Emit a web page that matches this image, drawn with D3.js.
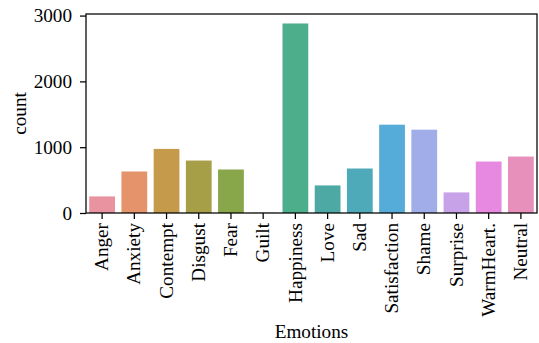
<!DOCTYPE html>
<html><head><meta charset="utf-8">
<script src="https://cdn.jsdelivr.net/npm/d3@7"></script>
<style>body{margin:0;background:#fff}svg{display:block}svg text{font-family:"Liberation Serif","Times New Roman",serif;fill:#000}</style>
</head><body><svg id="c" width="539" height="343"></svg>
<script>
const categories = ["Anger","Anxiety","Contempt","Disgust","Fear","Guilt","Happiness","Love","Sad","Satisfaction","Shame","Surprise","WarmHeart.","Neutral"];
const counts = [252, 631, 974, 797, 661, 3, 2880, 419, 676, 1342, 1266, 313, 782, 858];
const colors = ["#e8939f","#e5936b","#c59b4b","#a69f48","#88a64a","#56ab51","#4dae8b","#4ca9a4","#4eaab9","#55acd8","#a1ade8","#c8a2e8","#e789e0","#e790bc"];
const yTicks = [0, 1000, 2000, 3000];

const FONT = '"Liberation Serif","Times New Roman",serif';
const svg = d3.select("#c");
const L = 86, R = 537, T = 14, B = 213;
const fs = 19.2;
const x = d3.scaleBand().domain(categories).range([L, R]).paddingInner(0.2).paddingOuter(0.1);
const y = d3.scaleLinear().domain([0, d3.max(counts) * 1.05]).range([B, T]);

svg.append("g").selectAll("rect").data(categories).join("rect")
  .attr("x", d => x(d)).attr("width", x.bandwidth())
  .attr("y", (d, i) => y(counts[i])).attr("height", (d, i) => B - y(counts[i]))
  .attr("fill", (d, i) => colors[i]);

const xa = svg.append("g").attr("transform", `translate(0,${B})`)
  .call(d3.axisBottom(x).tickSize(6).tickPadding(4).tickSizeOuter(0))
  .attr("font-family", null).attr("font-size", null);
xa.select(".domain").remove();
xa.selectAll(".tick line").attr("stroke", "#000").attr("stroke-width", 1.25);
xa.selectAll(".tick text").style("font-size", fs + "px").style("font-family", FONT)
  .attr("transform", "rotate(-90)").attr("text-anchor", "end")
  .attr("x", -10).attr("y", 0).attr("dy", "0.32em");

const ya = svg.append("g").attr("transform", `translate(${L},0)`)
  .call(d3.axisLeft(y).tickValues(yTicks).tickFormat(d3.format("d")).tickSize(6).tickPadding(8).tickSizeOuter(0))
  .attr("font-family", null).attr("font-size", null);
ya.select(".domain").remove();
ya.selectAll(".tick line").attr("stroke", "#000").attr("stroke-width", 1.25);
ya.selectAll(".tick text").style("font-size", fs + "px").style("font-family", FONT).attr("dy", "0.32em");

svg.append("rect").attr("x", L).attr("y", T).attr("width", R - L).attr("height", B - T)
  .attr("fill", "none").attr("stroke", "#000").attr("stroke-width", 1.25);

svg.append("text").attr("x", (L + R) / 2).attr("y", 338).attr("text-anchor", "middle")
  .style("font-size", fs + "px").style("font-family", FONT).text("Emotions");
svg.append("text").attr("transform", `translate(26,${(T + B) / 2}) rotate(-90)`).attr("text-anchor", "middle")
  .style("font-size", fs + "px").style("font-family", FONT).text("count");
</script></body></html>
